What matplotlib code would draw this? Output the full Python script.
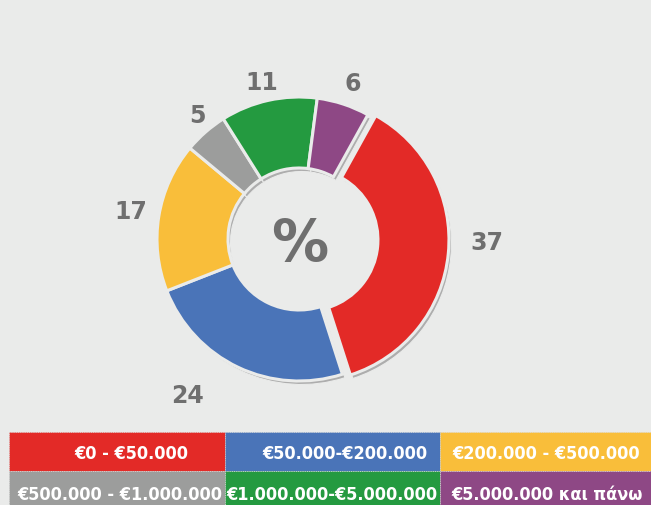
import matplotlib
matplotlib.use('Agg')  # no display
import matplotlib.pyplot as plt
import numpy as np
from matplotlib.patches import Rectangle

# data
categories = ['€0 - €50.000', '€50.000-€200.000', '€200.000 - €500.000',
              '€500.000 - €1.000.000', '€1.000.000-€5.000.000', '€5.000.000 και πάνω']
values = [37, 24, 17, 5, 11, 6]
colors = ['#E32A27', '#4A74B8', '#F9BE3A', '#9C9D9C', '#249A40', '#8E4885']

BG = '#EAEBEA'
GREY_TXT = '#6F6F6F'
W, H = 651, 505

fig = plt.figure(figsize=(6.51, 5.05), dpi=100)
fig.patch.set_facecolor(BG)
ax = fig.add_axes([0, 0, 1, 1])
ax.set_facecolor(BG)

# donut geometry (pixel units, y up)
cx, cy = 299, H - 239
R = 142
explode = [8, 0, 0, 0, 0, 0]
ring = dict(width=71, edgecolor=BG, linewidth=2.2)
shadow_ring = dict(width=71, edgecolor=BG, linewidth=0.8)

# drop shadow first, then the coloured ring on top
ax.pie(values, radius=R, center=(cx + 2.5, cy - 3.5), startangle=61, counterclock=False,
       explode=explode, colors=['#ADADAD'] * len(values), wedgeprops=shadow_ring)
wedges, _ = ax.pie(values, radius=R, center=(cx, cy), startangle=61, counterclock=False,
                   explode=explode, colors=colors, wedgeprops=ring)

# value labels outside the ring (small angle nudges to sit like the original)
label_dist = [1.27, 1.34, 1.2, 1.14, 1.143, 1.17]
label_nudge = [5.5, -10.4, -0.6, -2.2, 0.8, -0.8]
for w, v, d, nd in zip(wedges, values, label_dist, label_nudge):
    ang = np.deg2rad((w.theta1 + w.theta2) / 2 + nd)
    x = w.center[0] + R * d * np.cos(ang)
    y = w.center[1] + R * d * np.sin(ang)
    ax.text(x, y, str(v), color=GREY_TXT, fontsize=17, fontweight='bold',
            ha='center', va='center_baseline')

ax.text(cx + 0.5, H - 240, '%', color=GREY_TXT, fontsize=41, fontweight='bold',
        ha='center', va='center_baseline')

# colour legend as a 2x3 block of cells
col_edges = [9, 225, 440, 660]
row_edges = [432, 471, 512]
text_x = [131, 345, 546, 120, 332, 547]
text_y = [452, 493]
for i, (cat, col) in enumerate(zip(categories, colors)):
    r, c = i // 3, i % 3
    x0, x1 = col_edges[c], col_edges[c + 1]
    y0, y1 = row_edges[r], row_edges[r + 1]
    ax.add_patch(Rectangle((x0, H - y1), x1 - x0, y1 - y0, facecolor=col,
                           edgecolor='#DADADA', lw=0.6, linestyle=':'))
    ax.text(text_x[i], H - text_y[r], cat, color='white', fontsize=13, fontweight='bold',
            family='DejaVu Sans', fontstretch='condensed',
            ha='center', va='center_baseline')

ax.set_xlim(0, W)
ax.set_ylim(0, H)
ax.axis('off')

fig.savefig('out.png', dpi=100, facecolor=BG)
plt.close()
